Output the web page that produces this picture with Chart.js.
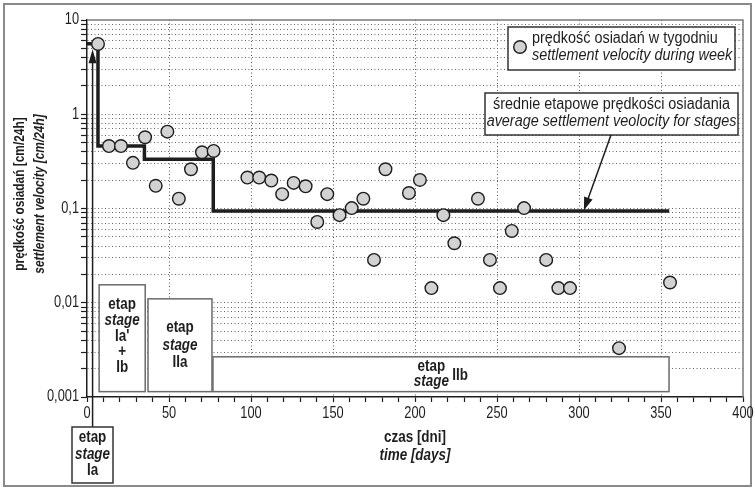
<!DOCTYPE html>
<html>
<head>
<meta charset="utf-8">
<script src="https://cdn.jsdelivr.net/npm/chart.js@4"></script>
<style>
html,body{margin:0;padding:0;background:#fff;}
#wrap{position:relative;width:755px;height:488px;}
</style>
</head>
<body>
<div id="wrap"><canvas id="c" width="755" height="488"></canvas></div>
<script>
// weekly settlement velocity [cm/24h] vs time [days]
const weekDays = [6.7, 13.4, 20.7, 28, 35.4, 41.9, 49, 56, 63.4, 70.1, 77.2,
  97.8, 105, 112.4, 119, 126, 133.3, 140.4, 146.5, 154, 161.4, 168.5, 175, 182,
  196.3, 203, 210, 217.3, 224, 238.4, 245.7, 251.8, 259, 266.5, 280, 287.4, 294.5,
  324.4, 355.5];
const weekVelocity = [5.57, 0.46, 0.46, 0.305, 0.57, 0.174, 0.654, 0.127, 0.261, 0.395, 0.408,
  0.213, 0.213, 0.198, 0.142, 0.187, 0.172, 0.072, 0.142, 0.085, 0.101, 0.127, 0.0285, 0.261,
  0.146, 0.201, 0.0143, 0.085, 0.0428, 0.127, 0.0285, 0.0143, 0.0578, 0.101, 0.0285, 0.0143, 0.0143,
  0.0033, 0.0164];
// average stage velocities (step line corners)
const stageDays = [0, 6.7, 6.7, 35, 35, 77, 77, 355];
const stageVelocity = [5.6, 5.6, 0.46, 0.46, 0.333, 0.333, 0.094, 0.094];
// axis ticks
const xTickValues = [];
for (let v = 0; v <= 400; v += 10) xTickValues.push(v);
const xLabelStep = 50;
const yDecades = [0.001, 0.01, 0.1, 1, 10];
const yDecadeLabels = ['0,001', '0,01', '0,1', '1', '10'];

const FONT = "'Liberation Sans',Arial,'DejaVu Sans',sans-serif";
const DARK = '#1e1e1e';
const SX_REG = 0.9, SX_BOLD = 0.84, SX_TICK = 0.8;

const yTickValues = [];
for (let d = 0; d < yDecades.length - 1; d++) {
  for (let m = 1; m <= 9; m++) yTickValues.push(+(yDecades[d] * m).toPrecision(3));
}
yTickValues.push(10);

// condensed text (emulates a narrow typeface)
function nText(ctx, txt, x, y, font, sx, align) {
  ctx.save();
  ctx.translate(x, y);
  ctx.scale(sx, 1);
  ctx.font = font + ' ' + FONT;
  ctx.textAlign = align || 'center';
  ctx.textBaseline = 'middle';
  ctx.fillText(txt, 0, 0);
  ctx.restore();
}
function textLines(ctx, lines, x, y0, dy, align) {
  lines.forEach((l, i) => {
    const sx = l[1].indexOf('bold') >= 0 ? SX_BOLD : SX_REG;
    nText(ctx, l[0], x, y0 + i * dy, l[1], sx, align);
  });
}
function arrow(ctx, x1, y1, x2, y2, head, w) {
  const a = Math.atan2(y2 - y1, x2 - x1);
  ctx.beginPath();
  ctx.moveTo(x1, y1);
  ctx.lineTo(x2 - Math.cos(a) * head * 0.8, y2 - Math.sin(a) * head * 0.8);
  ctx.lineWidth = 1.5; ctx.strokeStyle = DARK; ctx.stroke();
  ctx.beginPath();
  ctx.moveTo(x2, y2);
  ctx.lineTo(x2 - head * Math.cos(a) + w * Math.sin(a), y2 - head * Math.sin(a) - w * Math.cos(a));
  ctx.lineTo(x2 - head * Math.cos(a) - w * Math.sin(a), y2 - head * Math.sin(a) + w * Math.cos(a));
  ctx.closePath(); ctx.fillStyle = DARK; ctx.fill();
}

const decor = {
  id: 'decor',
  beforeDatasetsDraw(chart) {
    const ctx = chart.ctx, xs = chart.scales.x, ys = chart.scales.y;
    ctx.save();
    const box = (x0, x1, yTop, yBot) => {
      const l = xs.getPixelForValue(x0), r = xs.getPixelForValue(x1);
      const t = ys.getPixelForValue(yTop), b = ys.getPixelForValue(yBot);
      ctx.fillStyle = '#fff'; ctx.fillRect(l, t, r - l, b - t);
      ctx.strokeStyle = '#6a6a6a'; ctx.lineWidth = 1.5; ctx.strokeRect(l, t, r - l, b - t);
      return {l, r, t, b, cx: (l + r) / 2};
    };
    let b1 = box(7.4, 35.5, 0.0155, 0.00114);
    ctx.fillStyle = DARK;
    textLines(ctx, [['etap', 'bold 16px'], ['stage', 'bold italic 16px'], ["Ia'", 'bold 16px'], ['+', 'bold 16px'], ['Ib', 'bold 16px']], b1.cx, b1.t + 20, 15.7);
    let b2 = box(37.2, 76.2, 0.011, 0.00114);
    ctx.fillStyle = DARK;
    textLines(ctx, [['etap', 'bold 16px'], ['stage', 'bold italic 16px'], ['IIa', 'bold 16px']], b2.cx, b2.t + 29, 17.5);
    let b3 = box(76.8, 354.9, 0.00267, 0.00114);
    ctx.fillStyle = DARK;
    textLines(ctx, [['etap', 'bold 16px'], ['stage', 'bold italic 16px']], xs.getPixelForValue(210), b3.t + 10, 14.5);
    textLines(ctx, [['IIb', 'bold 16px']], xs.getPixelForValue(227.5), b3.t + 19, 0);
    ctx.restore();
  },
  afterDraw(chart) {
    const ctx = chart.ctx, ca = chart.chartArea, xs = chart.scales.x, ys = chart.scales.y;
    ctx.save();
    // outer frame
    ctx.strokeStyle = '#8a8a8a'; ctx.lineWidth = 2;
    ctx.strokeRect(4, 4, 747, 482);
    // plot frame top / right
    ctx.strokeStyle = '#7a7a7a'; ctx.lineWidth = 1.5;
    ctx.beginPath(); ctx.moveTo(ca.left, ca.top); ctx.lineTo(ca.right, ca.top); ctx.lineTo(ca.right, ca.bottom); ctx.stroke();

    // tick labels
    ctx.fillStyle = DARK;
    yDecades.forEach((v, i) => nText(ctx, yDecadeLabels[i], ca.left - 8, ys.getPixelForValue(v), '16px', SX_TICK, 'right'));
    xTickValues.filter(v => v % xLabelStep === 0).forEach(v => nText(ctx, String(v), xs.getPixelForValue(v), ca.bottom + 17, '16px', SX_TICK, 'center'));

    // legend box
    ctx.fillStyle = '#fff'; ctx.fillRect(508, 27, 227, 43);
    ctx.strokeStyle = '#333'; ctx.lineWidth = 1.5; ctx.strokeRect(508, 27, 227, 43);
    ctx.beginPath(); ctx.arc(520, 47, 6.3, 0, Math.PI * 2);
    ctx.fillStyle = '#d2d2d2'; ctx.fill(); ctx.strokeStyle = DARK; ctx.lineWidth = 1.4; ctx.stroke();
    ctx.fillStyle = DARK;
    textLines(ctx, [['prędkość osiadań w tygodniu', '16px'], ['settlement velocity during week', 'italic 16px']], 532, 39, 17, 'left');

    // stage averages annotation
    ctx.fillStyle = '#fff'; ctx.fillRect(485, 93, 253, 42);
    ctx.strokeStyle = '#333'; ctx.lineWidth = 1.5; ctx.strokeRect(485, 93, 253, 42);
    ctx.fillStyle = DARK;
    textLines(ctx, [['średnie etapowe prędkości osiadania', '16px'], ['average settlement veolocity for stages', 'italic 16px']], 611.5, 105, 17);
    arrow(ctx, 611, 135, xs.getPixelForValue(303), ys.getPixelForValue(0.096), 13, 4.5);

    // stage Ia box + arrow
    const ax = xs.getPixelForValue(3.4);
    arrow(ctx, ax, 427, ax, ys.getPixelForValue(4.9), 14, 4);
    ctx.fillStyle = '#fff'; ctx.fillRect(72, 427, 41, 56);
    ctx.strokeStyle = '#333'; ctx.lineWidth = 1.5; ctx.strokeRect(72, 427, 41, 56);
    ctx.fillStyle = DARK;
    textLines(ctx, [['etap', 'bold 16px'], ['stage', 'bold italic 16px'], ['Ia', 'bold 16px']], 92.5, 438, 16.5);

    // axis titles
    textLines(ctx, [['czas [dni]', 'bold 16px'], ['time [days]', 'bold italic 16px']], (ca.left + ca.right) / 2, 438, 18);
    ctx.save();
    ctx.translate(20, 194); ctx.rotate(-Math.PI / 2);
    nText(ctx, 'prędkość osiadań [cm/24h]', 0, 0, 'bold 14px', 0.85, 'center');
    nText(ctx, 'settlement velocity [cm/24h]', 0, 20, 'bold italic 14px', 0.85, 'center');
    ctx.restore();
    ctx.restore();
  }
};

new Chart(document.getElementById('c'), {
  type: 'scatter',
  data: {
    datasets: [
      {
        label: 'prędkość osiadań w tygodniu',
        data: weekDays.map((d, i) => ({x: d, y: weekVelocity[i]})),
        backgroundColor: '#d2d2d2',
        borderColor: DARK,
        borderWidth: 1.4,
        pointRadius: 6.3,
        pointHoverRadius: 6.3,
        order: 1
      },
      {
        type: 'line',
        label: 'średnie etapowe prędkości osiadania',
        data: stageDays.map((d, i) => ({x: d, y: stageVelocity[i]})),
        borderColor: DARK,
        borderWidth: 3.5,
        pointRadius: 0,
        tension: 0,
        fill: false,
        borderJoinStyle: 'miter',
        borderCapStyle: 'butt',
        order: 2
      }
    ]
  },
  options: {
    responsive: false,
    animation: false,
    events: [],
    layout: {padding: {left: 0, right: 12, top: 20, bottom: 0}},
    plugins: {legend: {display: false}, tooltip: {enabled: false}},
    scales: {
      x: {
        type: 'linear', min: 0, max: 400,
        afterBuildTicks: s => { s.ticks = xTickValues.map(v => ({value: v})); },
        afterFit: s => { s.height = 91; },
        ticks: {display: false},
        grid: {
          color: c => (c.tick && c.tick.value % 50 === 0 && c.tick.value > 0 && c.tick.value < 400 ? '#555' : 'rgba(0,0,0,0)'),
          lineWidth: 1,
          tickLength: 5, tickColor: DARK, tickWidth: 1.2
        },
        border: {color: DARK, width: 1.5, dash: [1, 2.5]}
      },
      y: {
        type: 'logarithmic', min: 0.001, max: 10,
        afterBuildTicks: s => { s.ticks = yTickValues.map(v => ({value: v})); },
        afterFit: s => { s.width = 87; },
        ticks: {display: false},
        grid: {
          color: c => (c.tick && (c.tick.value >= 9.99 || c.tick.value <= 0.00101) ? 'rgba(0,0,0,0)' : '#666'),
          lineWidth: 1,
          tickLength: 6, tickColor: DARK, tickWidth: 1.2
        },
        border: {color: DARK, width: 1.5, dash: [1, 2.5]}
      }
    }
  },
  plugins: [decor]
});
</script>
</body>
</html>
